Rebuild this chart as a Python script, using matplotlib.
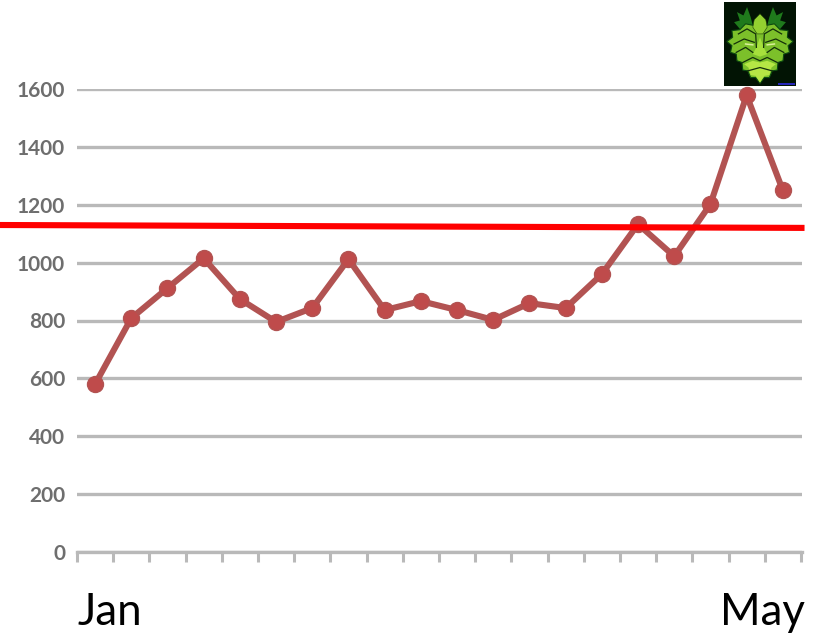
import matplotlib
matplotlib.use('Agg')
import matplotlib.pyplot as plt
from matplotlib.patches import Polygon

plt.rcParams['font.family'] = ['Lato', 'DejaVu Sans']

# weekly counts from January through May
values = [580, 808, 912, 1015, 874, 795, 843, 1012, 836, 867,
          836, 802, 860, 843, 960, 1133, 1022, 1202, 1578, 1250]
y_ticks = [0, 200, 400, 600, 800, 1000, 1200, 1400, 1600]
threshold_x = [-2.63, 19.6]
threshold_y = [1130, 1120]

# leaf mask shapes, in logo coordinates (0-1, y up)
sprig_left = [(0.30, 0.60), (0.14, 0.76), (0.22, 0.78), (0.18, 0.88), (0.27, 0.84),
              (0.32, 0.94), (0.37, 0.82), (0.40, 0.72)]
sprig_right = [(0.70, 0.60), (0.86, 0.76), (0.78, 0.78), (0.82, 0.88), (0.73, 0.84),
               (0.68, 0.94), (0.63, 0.82), (0.60, 0.72)]
leaf_outline = [(0.50, 0.03), (0.44, 0.10), (0.37, 0.10), (0.33, 0.18), (0.26, 0.19),
                (0.25, 0.28), (0.18, 0.30), (0.17, 0.38), (0.09, 0.40), (0.11, 0.48),
                (0.04, 0.53), (0.12, 0.58), (0.11, 0.66), (0.22, 0.67), (0.30, 0.74),
                (0.42, 0.72), (0.50, 0.70), (0.58, 0.72), (0.70, 0.74), (0.78, 0.67),
                (0.89, 0.66), (0.88, 0.58), (0.96, 0.53), (0.89, 0.48), (0.91, 0.40),
                (0.83, 0.38), (0.82, 0.30), (0.75, 0.28), (0.74, 0.19), (0.67, 0.18),
                (0.63, 0.10), (0.56, 0.10)]
beard = [(0.50, 0.04), (0.44, 0.12), (0.37, 0.13), (0.34, 0.22), (0.28, 0.26),
         (0.40, 0.30), (0.50, 0.28), (0.60, 0.30), (0.72, 0.26), (0.66, 0.22),
         (0.63, 0.13), (0.56, 0.12)]
nose = [(0.50, 0.58), (0.45, 0.46), (0.40, 0.38), (0.50, 0.35), (0.60, 0.38), (0.55, 0.46)]
brow = [(0.50, 0.86), (0.42, 0.79), (0.40, 0.70), (0.46, 0.62), (0.54, 0.62), (0.60, 0.70),
        (0.58, 0.79)]
creases = [
    [(0.20, 0.62), (0.32, 0.68), (0.44, 0.62), (0.45, 0.46)],
    [(0.80, 0.62), (0.68, 0.68), (0.56, 0.62), (0.55, 0.46)],
    [(0.14, 0.50), (0.28, 0.56), (0.42, 0.52)],
    [(0.86, 0.50), (0.72, 0.56), (0.58, 0.52)],
    [(0.17, 0.40), (0.30, 0.46), (0.40, 0.40)],
    [(0.83, 0.40), (0.70, 0.46), (0.60, 0.40)],
    [(0.26, 0.28), (0.40, 0.34), (0.50, 0.30), (0.60, 0.34), (0.74, 0.28)],
    [(0.33, 0.18), (0.50, 0.22), (0.67, 0.18)],
]
eyes = [[(0.30, 0.50), (0.40, 0.49)], [(0.60, 0.49), (0.70, 0.50)]]


def draw_logo(fig):
    logo = fig.add_axes([724 / 823, 1 - 86 / 634, 72 / 823, 84 / 634])
    logo.set_facecolor('#021404')
    logo.set_xlim(0, 1)
    logo.set_ylim(0, 1)
    logo.set_xticks([])
    logo.set_yticks([])
    for spine in logo.spines.values():
        spine.set_visible(False)
    logo.add_patch(Polygon(sprig_left, closed=True, fc='#1f7a1c', ec='none'))
    logo.add_patch(Polygon(sprig_right, closed=True, fc='#1f7a1c', ec='none'))
    logo.add_patch(Polygon(leaf_outline, closed=True, fc='#7cc02a', ec='#0c4a10', lw=0.8))
    logo.add_patch(Polygon(beard, closed=True, fc='#b6e645', ec='none'))
    logo.add_patch(Polygon(brow, closed=True, fc='#93d030', ec='#1c3f08', lw=0.4))
    logo.add_patch(Polygon(nose, closed=True, fc='#a6e03c', ec='none'))
    for crease in creases:
        xs, ys = zip(*crease)
        logo.plot(xs, ys, color='#14300a', lw=0.9)
    for eye in eyes:
        xs, ys = zip(*eye)
        logo.plot(xs, ys, color='#d9ef9a', lw=1.1)
    # small blue caption strip in the corner
    logo.add_patch(Polygon([(0.75, 0.012), (0.98, 0.012), (0.98, 0.04), (0.75, 0.04)],
                           closed=True, fc='#2626b8', ec='none'))


def main():
    fig = plt.figure(figsize=(8.23, 6.34), dpi=100)
    ax = fig.add_axes([77 / 823, 1 - 552 / 634, 725 / 823, 463 / 634])

    x = list(range(len(values)))
    ax.set_xlim(-0.5, len(values) - 0.47)
    ax.set_ylim(0, 1600)

    ax.yaxis.grid(True, color='#b9b9b9', lw=2.4)
    ax.set_axisbelow(True)
    for side in ['top', 'right', 'left']:
        ax.spines[side].set_visible(False)
    ax.spines['bottom'].set_color('#b9b9b9')
    ax.spines['bottom'].set_linewidth(2.4)

    ax.set_yticks(y_ticks)
    ax.tick_params(axis='y', length=0, pad=8.5, labelsize=15, labelcolor='#6e6e6e')
    for label in ax.get_yticklabels():
        label.set_fontweight('bold')
    ax.set_xticks([i - 0.5 for i in range(len(values) + 1)])
    ax.set_xticklabels([])
    ax.tick_params(axis='x', length=7.5, width=2.2, color='#b9b9b9')

    ax.plot(x, values, color='#b25352', lw=4.4, marker='o', ms=11.5,
            mfc='#bf4b4b', mec='#b25352', clip_on=False, zorder=3)
    ax.plot(threshold_x, threshold_y, color='#ff0000', lw=4.4, clip_on=False,
            solid_capstyle='butt', zorder=4)

    fig.text(78 / 823, 1 - 625 / 634, 'Jan', fontsize=31.5, color='black')
    fig.text(805 / 823, 1 - 625 / 634, 'May', fontsize=31.5, color='black', ha='right')

    draw_logo(fig)
    fig.savefig('out.png', dpi=100)
    plt.close(fig)


if __name__ == "__main__":
    main()
